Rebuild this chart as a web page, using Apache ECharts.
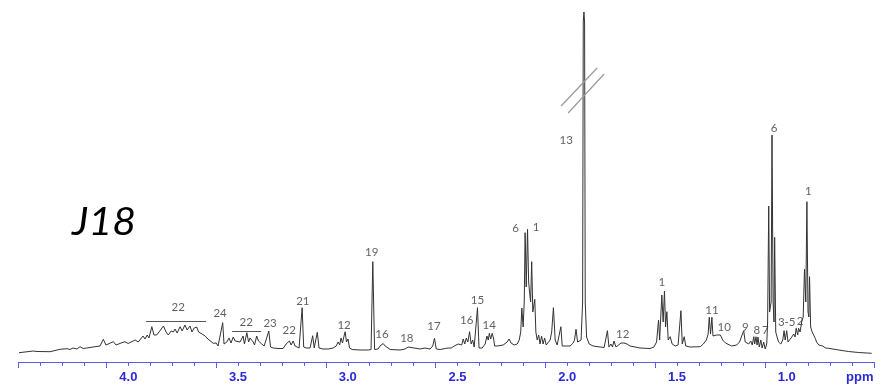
<!DOCTYPE html>
<html><head><meta charset="utf-8">
<script src="https://cdn.jsdelivr.net/npm/echarts@6/dist/echarts.min.js"></script>
<style>html,body{margin:0;padding:0;background:#fff}#c{width:884px;height:390px}</style>
</head><body><div id="c"></div>
<script>
// spectrum trace: [ppm, intensity]
const spectrum = [
[4.498,9.3],[4.433,11],[4.425,12],[4.416,10.5],[4.357,10.3],[4.311,12.7],[4.279,13.3],[4.266,12.5],[4.252,14],[4.234,13],
[4.220,15.3],[4.206,13.5],[4.190,14],[4.161,15],[4.129,16],[4.114,22.7],[4.102,17],[4.093,17],[4.068,20.3],[4.056,17],
[4.047,17.5],[4.033,19],[4.015,20.3],[4.001,18.5],[3.992,19],[3.969,22],[3.955,20],[3.947,21],[3.933,26],[3.924,23],
[3.914,27],[3.906,24],[3.893,35.3],[3.883,27],[3.871,27],[3.860,30],[3.851,28],[3.840,36],[3.828,30],[3.818,27],
[3.805,31],[3.795,30],[3.787,33],[3.778,29],[3.764,35.3],[3.755,31],[3.742,37],[3.732,32],[3.719,36],[3.710,30],
[3.700,34],[3.688,35],[3.680,30],[3.673,30],[3.664,28],[3.650,26],[3.637,23],[3.628,21],[3.613,18.7],[3.600,19],
[3.591,16],[3.582,17],[3.570,39.3],[3.564,18],[3.551,20],[3.541,24],[3.532,19],[3.522,25],[3.513,21],[3.505,23],
[3.491,20],[3.477,26],[3.471,18],[3.460,29.3],[3.452,20],[3.445,24],[3.431,20],[3.425,17],[3.415,26],[3.407,21],
[3.400,23],[3.392,18],[3.381,16],[3.372,15],[3.360,31],[3.352,15],[3.339,14],[3.318,13.5],[3.295,13.5],[3.281,18],
[3.274,16],[3.266,21],[3.258,17],[3.249,21],[3.240,16],[3.231,16],[3.222,14],[3.215,15],[3.208,54.3],[3.201,15],
[3.190,14],[3.172,14],[3.160,26.3],[3.153,14],[3.145,15],[3.139,29.7],[3.131,14],[3.113,13],[3.090,13],[3.067,14],
[3.053,16],[3.044,20],[3.037,17],[3.031,24],[3.024,19],[3.017,26],[3.012,30.3],[3.006,20],[2.999,23],[2.992,14],
[2.980,12.5],[2.944,12],[2.907,12],[2.894,12.5],[2.886,100.3],[2.878,12.5],[2.862,13],[2.853,16],[2.846,14],[2.839,18.5],
[2.830,16],[2.821,14],[2.807,12.5],[2.762,12],[2.739,13],[2.725,15],[2.716,13],[2.671,13],[2.648,14],[2.625,13],
[2.613,16],[2.605,23.7],[2.597,13],[2.579,12.5],[2.556,13.5],[2.543,14],[2.529,14],[2.515,16],[2.506,15],[2.497,18],
[2.488,20],[2.481,17],[2.474,23],[2.467,18],[2.460,24],[2.453,20],[2.445,30.3],[2.438,18],[2.431,22],[2.424,15],
[2.415,14],[2.409,54.3],[2.402,14],[2.388,14],[2.374,18],[2.366,26],[2.360,22],[2.355,28.7],[2.349,23],[2.342,28.7],
[2.336,24],[2.331,16],[2.319,16],[2.292,17],[2.274,20],[2.265,23],[2.256,19],[2.242,17],[2.228,18],[2.219,22],
[2.212,30],[2.207,54],[2.201,35],[2.196,60],[2.192,129.3],[2.187,75],[2.181,132.7],[2.176,80],[2.173,73],[2.167,60],
[2.162,100.3],[2.157,50],[2.148,62.7],[2.143,30],[2.137,22],[2.130,27],[2.124,18],[2.117,26],[2.110,18],[2.103,24],
[2.096,17],[2.087,19],[2.078,22],[2.071,30],[2.063,54.3],[2.055,22],[2.046,17],[2.037,16],[2.029,35.3],[2.023,16],
[2.005,16],[1.987,16],[1.973,19],[1.967,22],[1.960,32.7],[1.953,20],[1.946,18],[1.937,22],[1.930,60],[1.927,340],
[1.924,350],[1.921,340],[1.918,60],[1.912,25],[1.900,18],[1.882,16],[1.850,15],[1.832,14.5],[1.825,16],[1.817,31.3],
[1.810,15],[1.801,18],[1.794,15],[1.787,21],[1.778,15],[1.769,16],[1.755,19],[1.742,19],[1.728,18],[1.714,16],
[1.668,14],[1.623,13.5],[1.605,15],[1.593,20],[1.584,42],[1.579,22],[1.569,67],[1.563,40],[1.557,71],[1.552,35],
[1.546,50.3],[1.540,22],[1.531,25.3],[1.522,18],[1.508,16],[1.495,17],[1.482,51.3],[1.476,18],[1.467,25.3],[1.460,16],
[1.440,15],[1.394,15.3],[1.380,18],[1.366,22],[1.358,28],[1.353,44.7],[1.347,28],[1.341,44.7],[1.336,26],[1.329,24],
[1.320,27],[1.311,25],[1.302,27],[1.292,22],[1.279,19],[1.251,16],[1.228,17],[1.215,20],[1.206,19],[1.196,31.3],
[1.189,20],[1.182,22],[1.173,18],[1.164,21],[1.157,17],[1.150,25.3],[1.146,18],[1.140,25.3],[1.135,17],[1.131,25],
[1.125,15],[1.118,22],[1.112,14],[1.105,20],[1.098,13],[1.091,18],[1.087,40],[1.082,156],[1.078,50],[1.074,49],
[1.071,60],[1.067,227],[1.062,60],[1.058,40],[1.055,124.7],[1.050,30],[1.044,25],[1.037,20],[1.027,18],[1.018,22],
[1.012,31.3],[1.007,22],[1.000,31.3],[0.994,20],[0.987,22],[0.977,25],[0.968,28],[0.962,25],[0.957,33.7],[0.950,27],
[0.946,33.7],[0.939,30],[0.932,40],[0.925,45],[0.919,92.7],[0.913,60],[0.908,160.3],[0.903,50],[0.899,45],[0.896,85.3],
[0.891,35],[0.884,30],[0.877,28],[0.870,23.7],[0.864,20],[0.854,17],[0.847,15.3],[0.836,16],[0.823,14],[0.817,15],
[0.809,13.7],[0.763,12],[0.718,10.5],[0.672,9.5],[0.613,8.7]
];
// peak annotations: [text, ppm, height]
const annotations = [
['22',3.773,55],['24',3.582,49],['22',3.463,40],['23',3.354,39],['22',3.267,32],['21',3.205,60.3],
['12',3.017,37],['19',2.891,110],['16',2.844,28],['18',2.731,24],['17',2.607,36],['16',2.458,42],
['15',2.409,61.3],['14',2.356,37],['6',2.235,133.7],['1',2.142,134.7],['13',2.005,222],['12',1.747,27.7],
['1',1.569,79.3],['11',1.341,52],['10',1.285,34.7],['9',1.188,34.7],['8',1.136,32],['7',1.097,32],
['6',1.057,233.7],['3-5',1.000,39.7],['2',0.939,41],['1',0.901,170.3]
];
// bracket lines under "22" labels: [ppmStart, ppmEnd, height]
const brackets = [[3.919,3.646,41],[3.527,3.395,30.3]];
// axis break marks on peak 13: [[ppm,h],[ppm,h]]
const breakMarks = [[[2.028,256],[1.864,294]],[[1.996,249],[1.832,288]]];
const tickLabels = [4.0,3.5,3.0,2.5,2.0,1.5,1.0];

const chart = echarts.init(document.getElementById('c'), null, {renderer:'canvas'});
const blue = '#2a2ad8';
const axisCommon = {type:'value', min:0.6, max:4.5, inverse:true, position:'bottom', splitLine:{show:false}};
chart.setOption({
  animation:false,
  backgroundColor:'#fff',
  grid:{left:18.6, right:9.5, top:12, bottom:28},
  xAxis:[
    Object.assign({}, axisCommon, {
      interval:0.1,
      axisLine:{show:true, lineStyle:{color:'#5b5bf0', width:1.2}},
      axisTick:{show:true, length:4, lineStyle:{color:'#5b5bf0'}},
      axisLabel:{show:true, margin:9, color:blue, fontWeight:'bold', fontSize:13, fontFamily:'Liberation Sans, Arial',
        formatter:function(v){ for(const t of tickLabels){ if(Math.abs(v-t)<1e-6) return t.toFixed(1);} return ''; }}
    }),
    Object.assign({}, axisCommon, {
      interval:0.5,
      axisLine:{show:false},
      axisTick:{show:true, length:6, lineStyle:{color:'#5b5bf0'}},
      axisLabel:{show:false}
    })
  ],
  yAxis:{type:'value', min:0, max:350, show:false},
  series:[
    {type:'line', data:spectrum, showSymbol:false, symbol:'none', lineStyle:{color:'#333', width:1}, z:3,
     markLine:{silent:true, symbol:'none', label:{show:false},
       data: brackets.map(b=>[{coord:[b[0],b[2]], lineStyle:{color:'#555',width:1,type:'solid'}},{coord:[b[1],b[2]]}])
         .concat(breakMarks.map(m=>[{coord:m[0], lineStyle:{color:'#9a9a9a',width:1.2,type:'solid'}},{coord:m[1]}]))
     }},
    {type:'scatter', data:annotations.map(a=>({value:[a[1],a[2]], name:a[0]})), symbolSize:0, z:5,
     label:{show:true, position:'inside', formatter:p=>p.name, color:'#383838', fontSize:11.5, fontFamily:'Lato, Open Sans, sans-serif'}}
  ],
  graphic:[
    {type:'text', left:72, top:204, scaleX:1.08, style:{text:'J18', font:'italic 38px Lato, "Open Sans", sans-serif', fill:'#000'}},
    {type:'text', left:846, top:371, style:{text:'ppm', font:'bold 13px "Liberation Sans", Arial', fill:blue}}
  ]
});
</script></body></html>
